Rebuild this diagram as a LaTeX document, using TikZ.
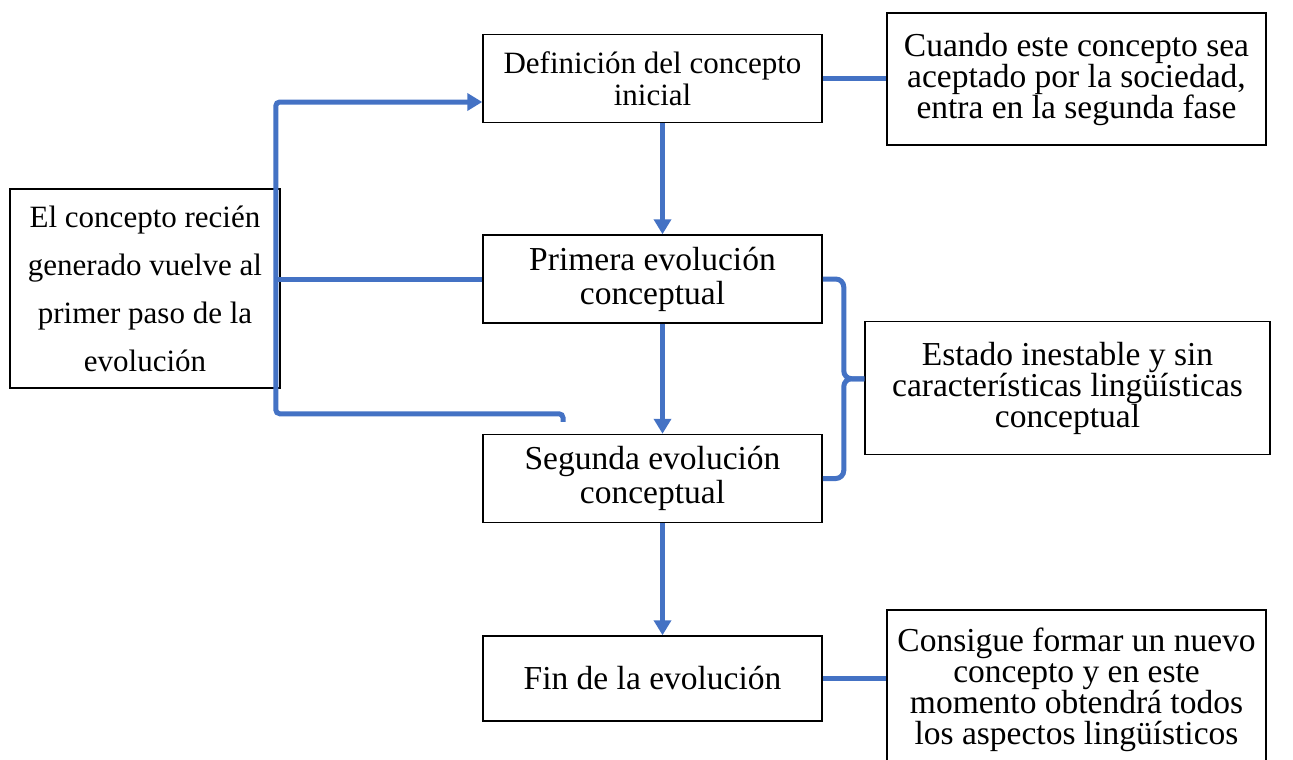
\documentclass[tikz,border=0pt]{standalone}
\usepackage{fontspec}
\setmainfont{Liberation Serif}
\usetikzlibrary{positioning, arrows.meta, calc}
\definecolor{linkblue}{RGB}{68,114,196}

\begin{document}
\begin{tikzpicture}[
            x=1pt, y=-1pt,
            stage/.style={
                rectangle,
                draw=black,
                line width=1.5pt,
                minimum width=339pt,
                minimum height=88pt,
                inner sep=0pt,
                align=center,
                font=\fontsize{33.5}{34}\selectfont
            },
            note/.style={
                rectangle,
                draw=black,
                line width=1.5pt,
                inner sep=0pt,
                align=center,
                font=\fontsize{33.5}{31}\selectfont
            },
            link/.style={
                draw=linkblue,
                line width=5pt
            },
            arrow/.style={
                link,
                -{Triangle[length=15pt, width=17pt]}
            }
        ]
            \useasboundingbox (0,0) rectangle (1293,760);
            \clip (0,0) rectangle (1293,760);

            \node [stage, font=\fontsize{31}{32}\selectfont] (def) at (652.5,78.5) {Definición del concepto\\inicial};
            \node [stage, below=111pt of def] (prim) {Primera evolución\\conceptual};
            \node [stage, below=110pt of prim] (seg) {Segunda evolución\\conceptual};
            \node [stage, below=112pt of seg, minimum height=85pt] (fin) {Fin de la evolución};

            \node [note, minimum width=379pt, minimum height=132pt] (accept) at (1076.5,79)
                {Cuando este concepto sea\\aceptado por la sociedad,\\entra en la segunda fase};
            \node [note, minimum width=405pt, minimum height=133pt] (unstable) at (1067.5,388)
                {Estado inestable y sin\\características lingüísticas\\conceptual};
            \node [note, minimum width=379pt, minimum height=160pt, anchor=north] (newconcept) at (1076.5,609)
                {Consigue formar un nuevo\\concepto y en este\\momento obtendrá todos\\los aspectos lingüísticos};
            \node [note, minimum width=270pt, minimum height=199pt, font=\fontsize{31}{48}\selectfont] (back) at (145,288.5)
                {El concepto recién\\generado vuelve al\\primer paso de la\\evolución};

            \coordinate (rail) at ([xshift=-5pt]back.east);
            \coordinate (inarrow) at ([yshift=-23.5pt]def.west);
            \coordinate (loopend) at ([xshift=-89.5pt, yshift=12pt]seg.north);
            \coordinate (loopbot) at ([yshift=8pt]loopend);
            \coordinate (bracemid) at ($(prim.east)!0.5!(seg.east)$);

            \draw [arrow] ([xshift=10pt]def.south) -- ([xshift=10pt]prim.north);
            \draw [arrow] ([xshift=10pt]prim.south) -- ([xshift=10pt]seg.north);
            \draw [arrow] ([xshift=10pt]seg.south) -- ([xshift=10pt]fin.north);

            \draw [link] (def.east) -- (def.east -| accept.west);
            \draw [link] (fin.east) -- (fin.east -| newconcept.west);

            \draw [arrow, rounded corners=4pt] (loopend) -- (loopbot)
                                -- (loopbot -| rail)
                                -- (rail |- inarrow)
                                -- (inarrow);
            \draw [link] (prim.west) -- (prim.west -| rail);

            \draw [link, rounded corners=8pt] (prim.east) -- ++(21,0) |- (unstable.west |- bracemid);
            \draw [link, rounded corners=8pt] (seg.east) -- ++(21,0) |- (unstable.west |- bracemid);

        \end{tikzpicture}
\end{document}
